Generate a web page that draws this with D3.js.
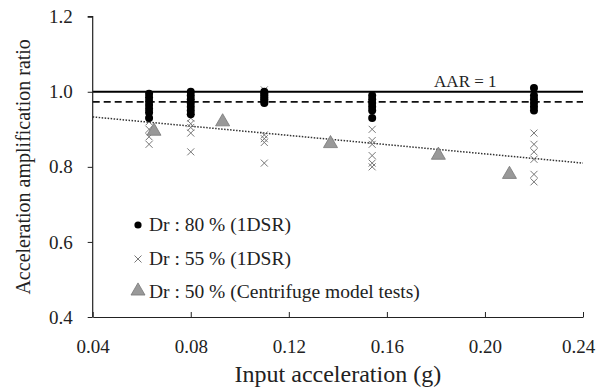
<!DOCTYPE html>
<html>
<head>
<meta charset="utf-8">
<script src="https://cdn.jsdelivr.net/npm/d3@7"></script>
<style>
  body { margin: 0; background: #fff; }
</style>
</head>
<body>
<svg class="chart"></svg>
<script>
// Dr 80 % (1DSR) - black dots
const dr80X = [0.063, 0.063, 0.063, 0.063, 0.063, 0.063, 0.063,
               0.08, 0.08, 0.08, 0.08, 0.08, 0.08, 0.08,
               0.11, 0.11, 0.11, 0.11, 0.11, 0.11, 0.11,
               0.154, 0.154, 0.154, 0.154, 0.154, 0.154,
               0.22, 0.22, 0.22, 0.22, 0.22, 0.22];
const dr80Y = [0.995, 0.985, 0.975, 0.965, 0.955, 0.945, 0.93,
               1.0, 0.99, 0.98, 0.97, 0.96, 0.95, 0.94,
               1.0, 0.995, 0.99, 0.985, 0.98, 0.975, 0.97,
               0.99, 0.98, 0.97, 0.96, 0.95, 0.93,
               1.01, 0.99, 0.98, 0.97, 0.96, 0.95];
// Dr 55 % (1DSR) - grey crosses
const dr55X = [0.063, 0.063, 0.063, 0.063, 0.063,
               0.08, 0.08, 0.08, 0.08, 0.08,
               0.11, 0.11, 0.11, 0.11, 0.11, 0.11,
               0.154, 0.154, 0.154, 0.154, 0.154, 0.154,
               0.22, 0.22, 0.22, 0.22, 0.22, 0.22];
const dr55Y = [0.94, 0.92, 0.90, 0.88, 0.86,
               0.93, 0.915, 0.905, 0.89, 0.84,
               1.005, 0.99, 0.885, 0.875, 0.865, 0.81,
               0.90, 0.87, 0.86, 0.83, 0.81, 0.80,
               0.89, 0.86, 0.84, 0.82, 0.78, 0.76];
// Dr 50 % (centrifuge) - grey triangles
const cenX = [0.065, 0.093, 0.137, 0.181, 0.21];
const cenY = [0.895, 0.92, 0.862, 0.831, 0.78];

const aarLineY = 1.0;
const meanLineY = 0.973;
const trendX = [0.04, 0.24];
const trendY = [0.933, 0.81];

const xTicks = [0.04, 0.08, 0.12, 0.16, 0.20, 0.24];
const yTicks = [0.4, 0.6, 0.8, 1.0, 1.2];
const legendLabels = ['Dr : 80 % (1DSR)', 'Dr : 55 % (1DSR)', 'Dr : 50 % (Centrifuge model tests)'];

const width = 599;
const height = 387;
const mLeft = 92.7, mRight = 583, mTop = 16.7, mBottom = 317;
const serif = '"Liberation Serif", "Times New Roman", Times, serif';

const x = d3.scaleLinear().domain([0.04, 0.24]).range([mLeft, mRight]);
const y = d3.scaleLinear().domain([0.4, 1.2]).range([mBottom, mTop]);

const svg = d3.select('.chart').attr('width', width).attr('height', height);

// reference lines
svg.append('line')
  .attr('x1', x(0.04)).attr('x2', x(0.24))
  .attr('y1', y(aarLineY)).attr('y2', y(aarLineY))
  .attr('stroke', '#000').attr('stroke-width', 2);
svg.append('line')
  .attr('x1', x(0.04)).attr('x2', x(0.24))
  .attr('y1', y(meanLineY)).attr('y2', y(meanLineY))
  .attr('stroke', '#111').attr('stroke-width', 1.6).attr('stroke-dasharray', '7,4');
svg.append('line')
  .attr('x1', x(trendX[0])).attr('x2', x(trendX[1]))
  .attr('y1', y(trendY[0])).attr('y2', y(trendY[1]))
  .attr('stroke', '#333').attr('stroke-width', 1.5).attr('stroke-dasharray', '1.5,1.5');

svg.append('text')
  .attr('x', x(0.192)).attr('y', y(1.0) - 5)
  .attr('text-anchor', 'middle')
  .style('font-family', serif).style('font-size', '17px').attr('fill', '#222')
  .text('AAR = 1');

const crossPath = 'M-3.5,-3.5L3.5,3.5M3.5,-3.5L-3.5,3.5';
const triSym = d3.symbol(d3.symbolTriangle, 85);

// crosses
svg.append('g').selectAll('path')
  .data(dr55X.map((d, i) => [d, dr55Y[i]]))
  .enter().append('path')
  .attr('d', crossPath)
  .attr('transform', d => 'translate(' + x(d[0]) + ',' + y(d[1]) + ')')
  .attr('stroke', '#777').attr('stroke-width', 1).attr('fill', 'none');

// dots
svg.append('g').selectAll('circle')
  .data(dr80X.map((d, i) => [d, dr80Y[i]]))
  .enter().append('circle')
  .attr('cx', d => x(d[0]))
  .attr('cy', d => y(d[1]))
  .attr('r', 4)
  .attr('fill', '#000');

// triangles
svg.append('g').selectAll('path')
  .data(cenX.map((d, i) => [d, cenY[i]]))
  .enter().append('path')
  .attr('d', triSym)
  .attr('transform', d => 'translate(' + x(d[0]) + ',' + y(d[1]) + ')')
  .attr('fill', '#999').attr('stroke', '#777').attr('stroke-width', 0.8);

// axes
const yAxis = d3.axisLeft(y).tickValues(yTicks).tickFormat(d3.format('.1f')).tickSize(5).tickPadding(15);
const xAxis = d3.axisBottom(x).tickValues(xTicks).tickFormat(d3.format('.2f')).tickSizeInner(-5).tickSizeOuter(0).tickPadding(23);

const gy = svg.append('g').attr('transform', 'translate(' + mLeft + ',0)').call(yAxis);
const gx = svg.append('g').attr('transform', 'translate(0,' + mBottom + ')').call(xAxis);
[gx, gy].forEach(g => {
  g.attr('font-family', null);
  g.select('.domain').attr('stroke', '#222').attr('stroke-width', 1.2);
  g.selectAll('.tick line').attr('stroke', '#222');
  g.selectAll('.tick text')
    .style('font-family', serif).style('font-size', '19px').attr('fill', '#222');
});
gy.select('.domain').attr('d', 'M-5,' + mTop + 'H0V' + mBottom);
// last x label sits a little left so it stays inside the frame
gx.selectAll('.tick text').filter(d => d === 0.24).attr('dx', -5);

// axis titles
svg.append('text')
  .attr('x', (mLeft + mRight) / 2).attr('y', 382)
  .attr('text-anchor', 'middle')
  .style('font-family', serif).style('font-size', '24px').attr('fill', '#222')
  .text('Input acceleration (g)');
svg.append('text')
  .attr('transform', 'translate(30,' + ((mTop + mBottom) / 2) + ') rotate(-90)')
  .attr('text-anchor', 'middle')
  .style('font-family', serif).style('font-size', '20px').attr('fill', '#222')
  .text('Acceleration amplification ratio');

// legend
const lg = svg.append('g');
const rowY = [225, 259, 292];
lg.selectAll('text').data(legendLabels).enter().append('text')
  .attr('x', 149).attr('y', (d, i) => rowY[i] + 6)
  .style('font-family', serif).style('font-size', '19.5px').attr('fill', '#222')
  .text(d => d);
lg.append('circle').attr('cx', 138).attr('cy', rowY[0]).attr('r', 3.6).attr('fill', '#000');
lg.append('path').attr('d', crossPath)
  .attr('transform', 'translate(138,' + rowY[1] + ')')
  .attr('stroke', '#777').attr('fill', 'none');
lg.append('path').attr('d', triSym)
  .attr('transform', 'translate(138,' + (rowY[2] - 1) + ')')
  .attr('fill', '#999').attr('stroke', '#777').attr('stroke-width', 0.8);
</script>
</body>
</html>
